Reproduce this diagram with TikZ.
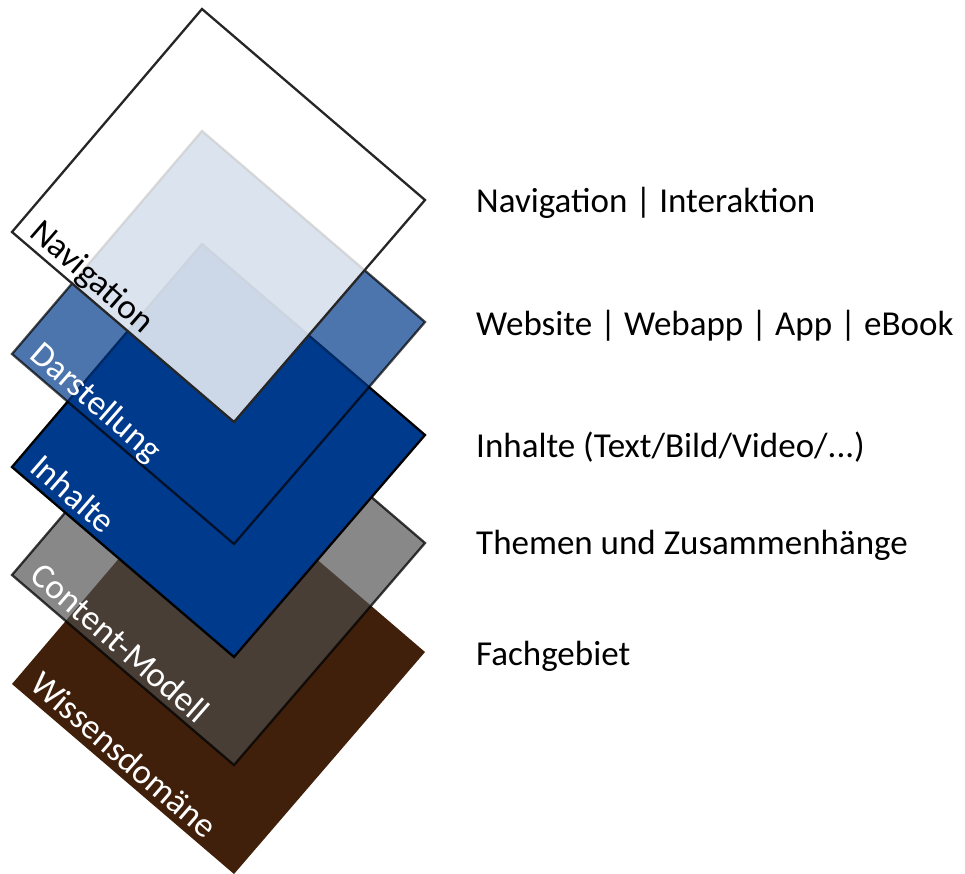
\documentclass[tikz,border=0pt]{standalone}
\usepackage{fontspec}
\setmainfont{Carlito}
\usepackage{tikz}
\definecolor{domainbrown}{HTML}{40200A}
\definecolor{contentblue}{HTML}{003A8C}
\definecolor{modelgray}{HTML}{4D4D4D}
\tikzset{
  layer/.style={line width=2.3pt, line join=miter},
  navlayer/.style={layer, fill=white, fill opacity=0.8, draw=black!85},
  darlayer/.style={layer, fill=contentblue, fill opacity=0.7, draw=black, draw opacity=0.7},
  inhlayer/.style={layer, fill=contentblue, draw=black},
  modlayer/.style={layer, fill=modelgray, fill opacity=0.67, draw=black, draw opacity=0.75},
  domlayer/.style={fill=domainbrown, draw=none},
  layertext/.style={font=\fontsize{35}{42}\selectfont, rotate=-41, anchor=base west,
                    inner sep=0pt, text=white},
  sidetext/.style={font=\fontsize{35}{42}\selectfont, anchor=base west, inner sep=0pt},
}

\begin{document}
\begin{tikzpicture}[x=1pt, y=-1pt]
    \useasboundingbox (0,0) rectangle (965,874);
    % layers, bottom to top
    \draw[domlayer] (12,684) -- (202,461) -- (425,652) -- (234,874) -- cycle;
    \draw[modlayer] (12,575) -- (202,352) -- (425,543) -- (234,765) -- cycle;
    \draw[inhlayer] (12,467) -- (202,244) -- (425,435) -- (234,657) -- cycle;
    \draw[darlayer] (12,354) -- (202,131) -- (425,322) -- (234,544) -- cycle;
    \draw[navlayer] (12,232) -- (202,9) -- (425,200) -- (234,422) -- cycle;
    % labels on the layers
    \node[layertext] (lbldom) at (28,687) {Wissensdomäne};
    \node[layertext] (lblmod) at (28,578) {Content-Modell};
    \node[layertext] (lblinh) at (28,470) {Inhalte};
    \node[layertext] (lbldar) at (28,357) {Darstellung};
    \node[layertext, text=black] (lblnav) at (28,235) {Navigation};
    % descriptions
    \node[sidetext] (descnav) at (476,213) {Navigation | Interaktion};
    \node[sidetext] (descdar) at (476,335) {Website | Webapp | App | eBook};
    \node[sidetext] (descinh) at (476,457) {Inhalte (Text/Bild/Video/...)};
    \node[sidetext] (descmod) at (476,554) {Themen und Zusammenhänge};
    \node[sidetext] (descdom) at (476,665) {Fachgebiet};
  \end{tikzpicture}
\end{document}
